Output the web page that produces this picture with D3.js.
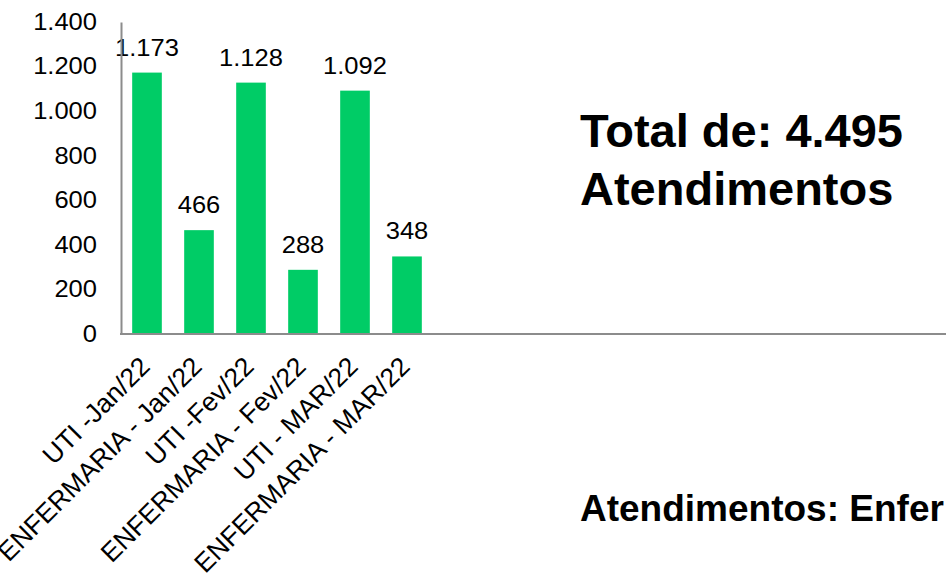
<!DOCTYPE html>
<html>
<head>
<meta charset="utf-8">
<script src="https://cdn.jsdelivr.net/npm/d3@7"></script>
<style>
    body { margin: 0; background: #fff; }
    #chart-area { width: 946px; height: 575px; overflow: hidden; }
    svg { font-family: "Liberation Sans", Arial, sans-serif; }
</style>
</head>
<body>
<div id="chart-area"></div>
<script>

// categories + values
let categories = ["UTI -Jan/22", "ENFERMARIA - Jan/22", "UTI -Fev/22", "ENFERMARIA - Fev/22",
    "UTI - MAR/22", "ENFERMARIA - MAR/22"];
let atendimentos = [1173, 466, 1128, 288, 1092, 348];
let yTicks = [0, 200, 400, 600, 800, 1000, 1200, 1400];
let titleLines = ["Total de: ", "Atendimentos"];
// the reference cuts this one off at the right edge
let footText = "Atendimentos: Enfer";

// pt-BR number format (1.173)
let ptBR = d3.formatLocale({decimal: ",", thousands: ".", grouping: [3], currency: ["R$", ""]});
let fmt = ptBR.format(",d");


class BarChart {

    constructor(parentElement, labels, values) {
        this.parentElement = parentElement;
        this.labels = labels;
        this.values = values;

        this.initVis();
    }

    initVis() {
        let vis = this;

        vis.width = 946;
        vis.height = 575;
        vis.stretch = 1.11;   // numbers in the picture are a bit wider than Arial

        vis.svg = d3.select("#" + vis.parentElement).append("svg")
            .attr("width", vis.width)
            .attr("height", vis.height);

        // plot area: y axis at x=121, baseline at y=334
        vis.left = 121;
        vis.bottom = 334;

        vis.x = d3.scaleBand()
            .domain(vis.labels)
            .range([vis.left, vis.left + 52 * vis.labels.length])
            .paddingInner(0.43)
            .paddingOuter(0.215);

        vis.y = d3.scaleLinear()
            .domain([0, 1400])
            .range([vis.bottom, 22]);

        vis.updateVis();
    }

    updateVis() {
        let vis = this;
        let data = vis.labels.map((d, i) => ({label: d, value: vis.values[i]}));

        // bars
        vis.svg.selectAll(".bar")
            .data(data)
            .enter().append("rect")
            .attr("class", "bar")
            .attr("x", d => vis.x(d.label))
            .attr("y", d => vis.y(d.value))
            .attr("width", vis.x.bandwidth())
            .attr("height", d => vis.bottom - vis.y(d.value))
            .attr("fill", "#00cc66");

        // value labels
        vis.svg.selectAll(".valLabel")
            .data(data)
            .enter().append("text")
            .attr("class", "valLabel")
            .attr("transform", d => `translate(${vis.x(d.label) + vis.x.bandwidth() / 2}, ${vis.y(d.value) - 17}) scale(${vis.stretch}, 1)`)
            .attr("text-anchor", "middle")
            .attr("font-size", 23)
            .attr("fill", "#000")
            .text(d => fmt(d.value));

        // y axis
        let yAxis = vis.svg.append("g")
            .attr("class", "y-axis")
            .attr("transform", `translate(${vis.left}, 0)`)
            .call(d3.axisLeft(vis.y).tickValues(yTicks).tickFormat(fmt)
                .tickSize(0).tickPadding(24));
        yAxis.select(".domain").attr("stroke", "#8c8c8c").attr("stroke-width", 2);
        yAxis.selectAll("text")
            .attr("x", 0)
            .attr("transform", `translate(-24, 0) scale(${vis.stretch}, 1)`)
            .attr("font-size", 23)
            .attr("font-family", "Liberation Sans, Arial, sans-serif")
            .attr("fill", "#000");

        // x axis, labels rotated
        let xAxis = vis.svg.append("g")
            .attr("class", "x-axis")
            .attr("transform", `translate(0, ${vis.bottom})`)
            .call(d3.axisBottom(vis.x).tickSize(0));
        xAxis.select(".domain").remove();
        xAxis.selectAll("text")
            .attr("y", 0)
            .attr("dy", 0)
            .attr("text-anchor", "end")
            .attr("transform", "translate(4.5, 34) rotate(-45)")
            .attr("font-size", 26.5)
            .attr("font-family", "Liberation Sans, Arial, sans-serif")
            .attr("fill", "#000");

        // baseline runs all the way to the right edge
        vis.svg.append("line")
            .attr("x1", vis.left - 1)
            .attr("x2", vis.width)
            .attr("y1", vis.bottom)
            .attr("y2", vis.bottom)
            .attr("stroke", "#8c8c8c")
            .attr("stroke-width", 2);

        // total text block
        let total = d3.sum(vis.values);
        vis.svg.append("text")
            .attr("x", 580)
            .attr("y", 147)
            .attr("font-size", 47)
            .attr("font-weight", "bold")
            .text(titleLines[0] + fmt(total));
        vis.svg.append("text")
            .attr("x", 580)
            .attr("y", 205)
            .attr("font-size", 47)
            .attr("font-weight", "bold")
            .text(titleLines[1]);

        vis.svg.append("text")
            .attr("x", 580)
            .attr("y", 521)
            .attr("font-size", 37)
            .attr("font-weight", "bold")
            .text(footText);
    }
}

let barChart = new BarChart("chart-area", categories, atendimentos);

</script>
</body>
</html>
